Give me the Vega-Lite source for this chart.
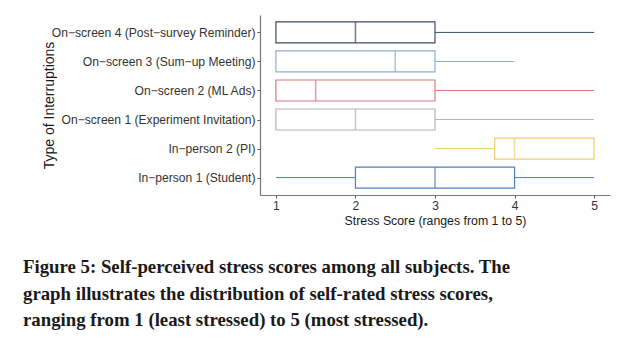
{
  "$schema": "https://vega.github.io/schema/vega-lite/v6.json",
  "width": 350,
  "height": 180,
  "autosize": {"type": "none"},
  "padding": {"left": 260, "top": 15, "right": 26, "bottom": 161},
  "background": "white",
  "config": {
    "view": {"stroke": null},
    "font": "Liberation Sans"
  },
  "title": {
    "text": [
      "Figure 5: Self-perceived stress scores among all subjects. The",
      "graph illustrates the distribution of self-rated stress scores,",
      "ranging from 1 (least stressed) to 5 (most stressed)."
    ],
    "orient": "bottom",
    "anchor": "start",
    "frame": "group",
    "dx": -237,
    "offset": 32,
    "font": "Liberation Serif",
    "fontWeight": "bold",
    "fontSize": 18.8,
    "lineHeight": 26.5,
    "color": "#1a1a1a"
  },
  "data": {
    "values": [
      {"group": "On−screen 4 (Post−survey Reminder)", "lower": 1, "q1": 1, "median": 2, "q3": 3, "upper": 5},
      {"group": "On−screen 3 (Sum−up Meeting)", "lower": 1, "q1": 1, "median": 2.5, "q3": 3, "upper": 4},
      {"group": "On−screen 2 (ML Ads)", "lower": 1, "q1": 1, "median": 1.5, "q3": 3, "upper": 5},
      {"group": "On−screen 1 (Experiment Invitation)", "lower": 1, "q1": 1, "median": 2, "q3": 3, "upper": 5},
      {"group": "In−person 2 (PI)", "lower": 3, "q1": 3.75, "median": 4, "q3": 5, "upper": 5},
      {"group": "In−person 1 (Student)", "lower": 1, "q1": 2, "median": 3, "q3": 4, "upper": 5}
    ]
  },
  "encoding": {
    "y": {
      "field": "group",
      "type": "nominal",
      "sort": null,
      "scale": {"type": "point", "padding": 0.6},
      "axis": {
        "title": "Type of Interruptions",
        "titleFont": "Liberation Sans",
        "titleFontWeight": "normal",
        "titleFontSize": 14,
        "titleColor": "#1a1a1a",
        "titlePadding": 4,
        "labelFont": "Liberation Sans",
        "labelFontSize": 12.1,
        "labelLimit": 400,
        "labelColor": "#333333",
        "labelPadding": 2,
        "tickSize": 3,
        "tickColor": "#555555",
        "domainColor": "#777777",
        "domainWidth": 1.2,
        "grid": false
      }
    },
    "color": {
      "field": "group",
      "type": "nominal",
      "scale": {
        "domain": [
          "On−screen 4 (Post−survey Reminder)",
          "On−screen 3 (Sum−up Meeting)",
          "On−screen 2 (ML Ads)",
          "On−screen 1 (Experiment Invitation)",
          "In−person 2 (PI)",
          "In−person 1 (Student)"
        ],
        "range": ["#3b4c66", "#8eadd6", "#d9797c", "#b3b3b3", "#efcd72", "#4f80bd"]
      },
      "legend": null
    }
  },
  "layer": [
    {
      "mark": {"type": "rule", "strokeWidth": 1},
      "encoding": {
        "x": {
          "field": "lower",
          "type": "quantitative",
          "scale": {"domain": [0.8, 5.2], "nice": false, "zero": false},
          "axis": {
            "title": "Stress Score (ranges from 1 to 5)",
            "titleFont": "Liberation Sans",
            "titleFontWeight": "normal",
            "titleFontSize": 12.3,
            "titleColor": "#1a1a1a",
            "titlePadding": 3,
            "values": [1, 2, 3, 4, 5],
            "format": "d",
            "labelFont": "Liberation Sans",
            "labelFontSize": 12.1,
            "labelColor": "#333333",
            "labelPadding": 1,
            "tickSize": 3,
            "tickColor": "#555555",
            "domainColor": "#777777",
            "domainWidth": 1.2,
            "grid": false
          }
        },
        "x2": {"field": "upper"}
      }
    },
    {
      "mark": {"type": "bar", "size": 21, "fill": "white", "strokeWidth": 1.2, "cornerRadius": 0},
      "encoding": {
        "x": {"field": "q1", "type": "quantitative"},
        "x2": {"field": "q3"},
        "stroke": {"field": "group", "type": "nominal", "scale": {
          "domain": [
            "On−screen 4 (Post−survey Reminder)",
            "On−screen 3 (Sum−up Meeting)",
            "On−screen 2 (ML Ads)",
            "On−screen 1 (Experiment Invitation)",
            "In−person 2 (PI)",
            "In−person 1 (Student)"
          ],
          "range": ["#3b4c66", "#8eadd6", "#d9797c", "#b3b3b3", "#efcd72", "#4f80bd"]
        }, "legend": null}
      }
    },
    {
      "mark": {"type": "tick", "orient": "vertical", "size": 21, "thickness": 1.6},
      "encoding": {
        "x": {"field": "median", "type": "quantitative"}
      }
    }
  ]
}
